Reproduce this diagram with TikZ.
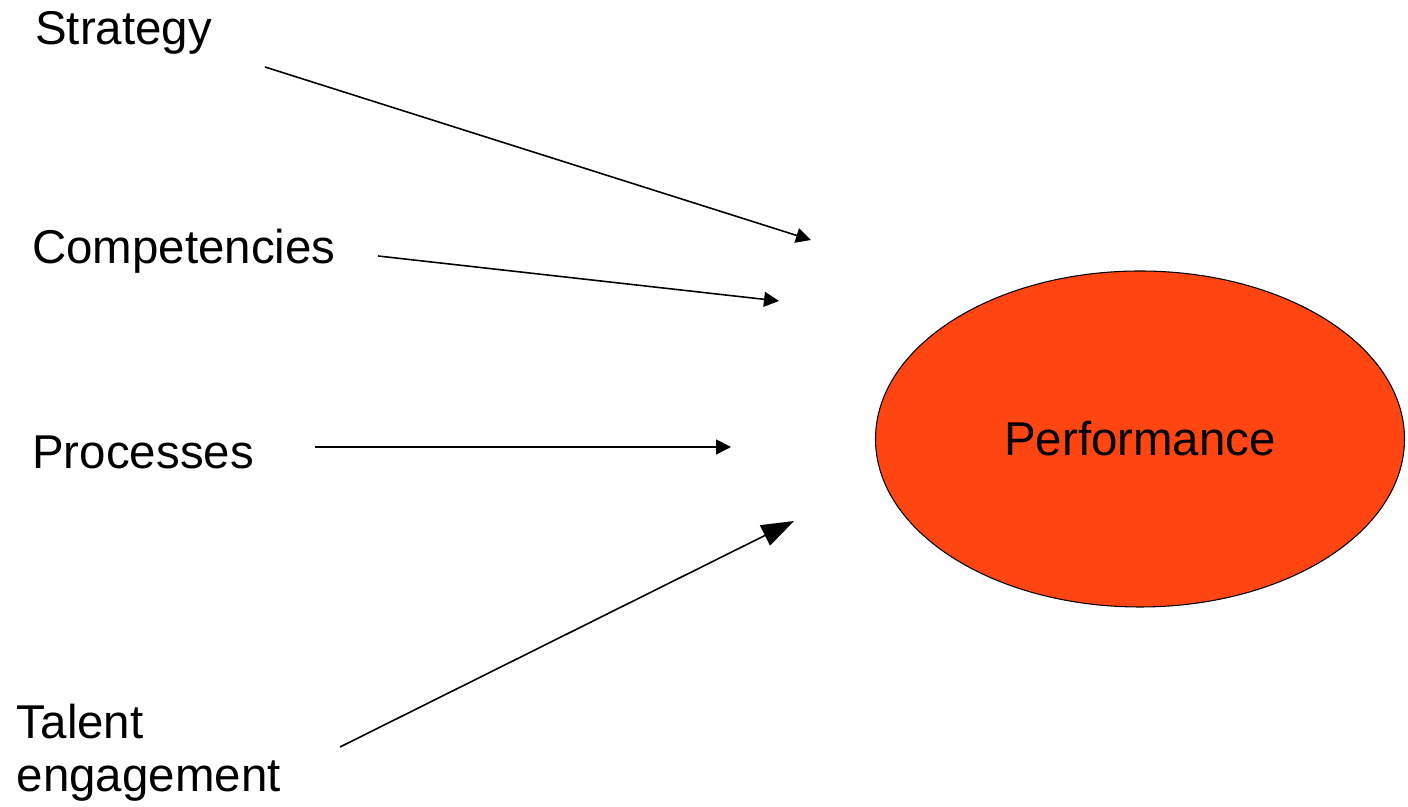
\documentclass[tikz,border=0pt]{standalone}
\usepackage{fontspec}
\setmainfont{Liberation Sans}
\usetikzlibrary{shapes.geometric,arrows.meta}
\definecolor{perforange}{RGB}{255,69,18}

\begin{document}
\begin{tikzpicture}[
		driver/.style={anchor=west, inner sep=0pt, font=\fontsize{27}{30}\selectfont},
		link/.style={-{Triangle[length=0.3cm, width=0.3cm]}, line width=0.9pt}
	]
		\useasboundingbox (0, 0) rectangle (28.16, 16.14);
		
		% Drivers
		\node[driver] (strat) at (0.70, 15.48) {Strategy};
		\node[driver] (comp) at (0.64, 11.12) {Competencies};
		\node[driver] (proc) at (0.64, 7.10) {Processes};
		\node[driver, anchor=north west, align=left] (talent) at (0.33, 2.06) {Talent\\engagement};
		
		% Outcome
		\node[black, style={ellipse, fill=perforange, minimum width=10.58cm, minimum height=6.72cm, inner sep=0pt, draw=black, line width=0.6pt}, font=\fontsize{27}{30}\selectfont] (perf) at (22.80, 7.36) {Performance};
		
		% Arrow ends
		\coordinate (strat-s) at (5.30, 14.80);
		\coordinate (strat-e) at (16.22, 11.34);
		\coordinate (comp-s) at (7.56, 11.02);
		\coordinate (comp-e) at (15.58, 10.12);
		\coordinate (proc-s) at (6.30, 7.20);
		\coordinate (proc-e) at (14.62, 7.20);
		\coordinate (talent-s) at (6.80, 1.20);
		\coordinate (talent-e) at (15.88, 5.72);
		
		% Connect
		\draw[link] (strat-s) -- (strat-e);
		\draw[link] (comp-s) -- (comp-e);
		\draw[link] (proc-s) -- (proc-e);
		\draw[link, -{Triangle[length=0.65cm, width=0.45cm]}] (talent-s) -- (talent-e);
		
	\end{tikzpicture}
\end{document}
